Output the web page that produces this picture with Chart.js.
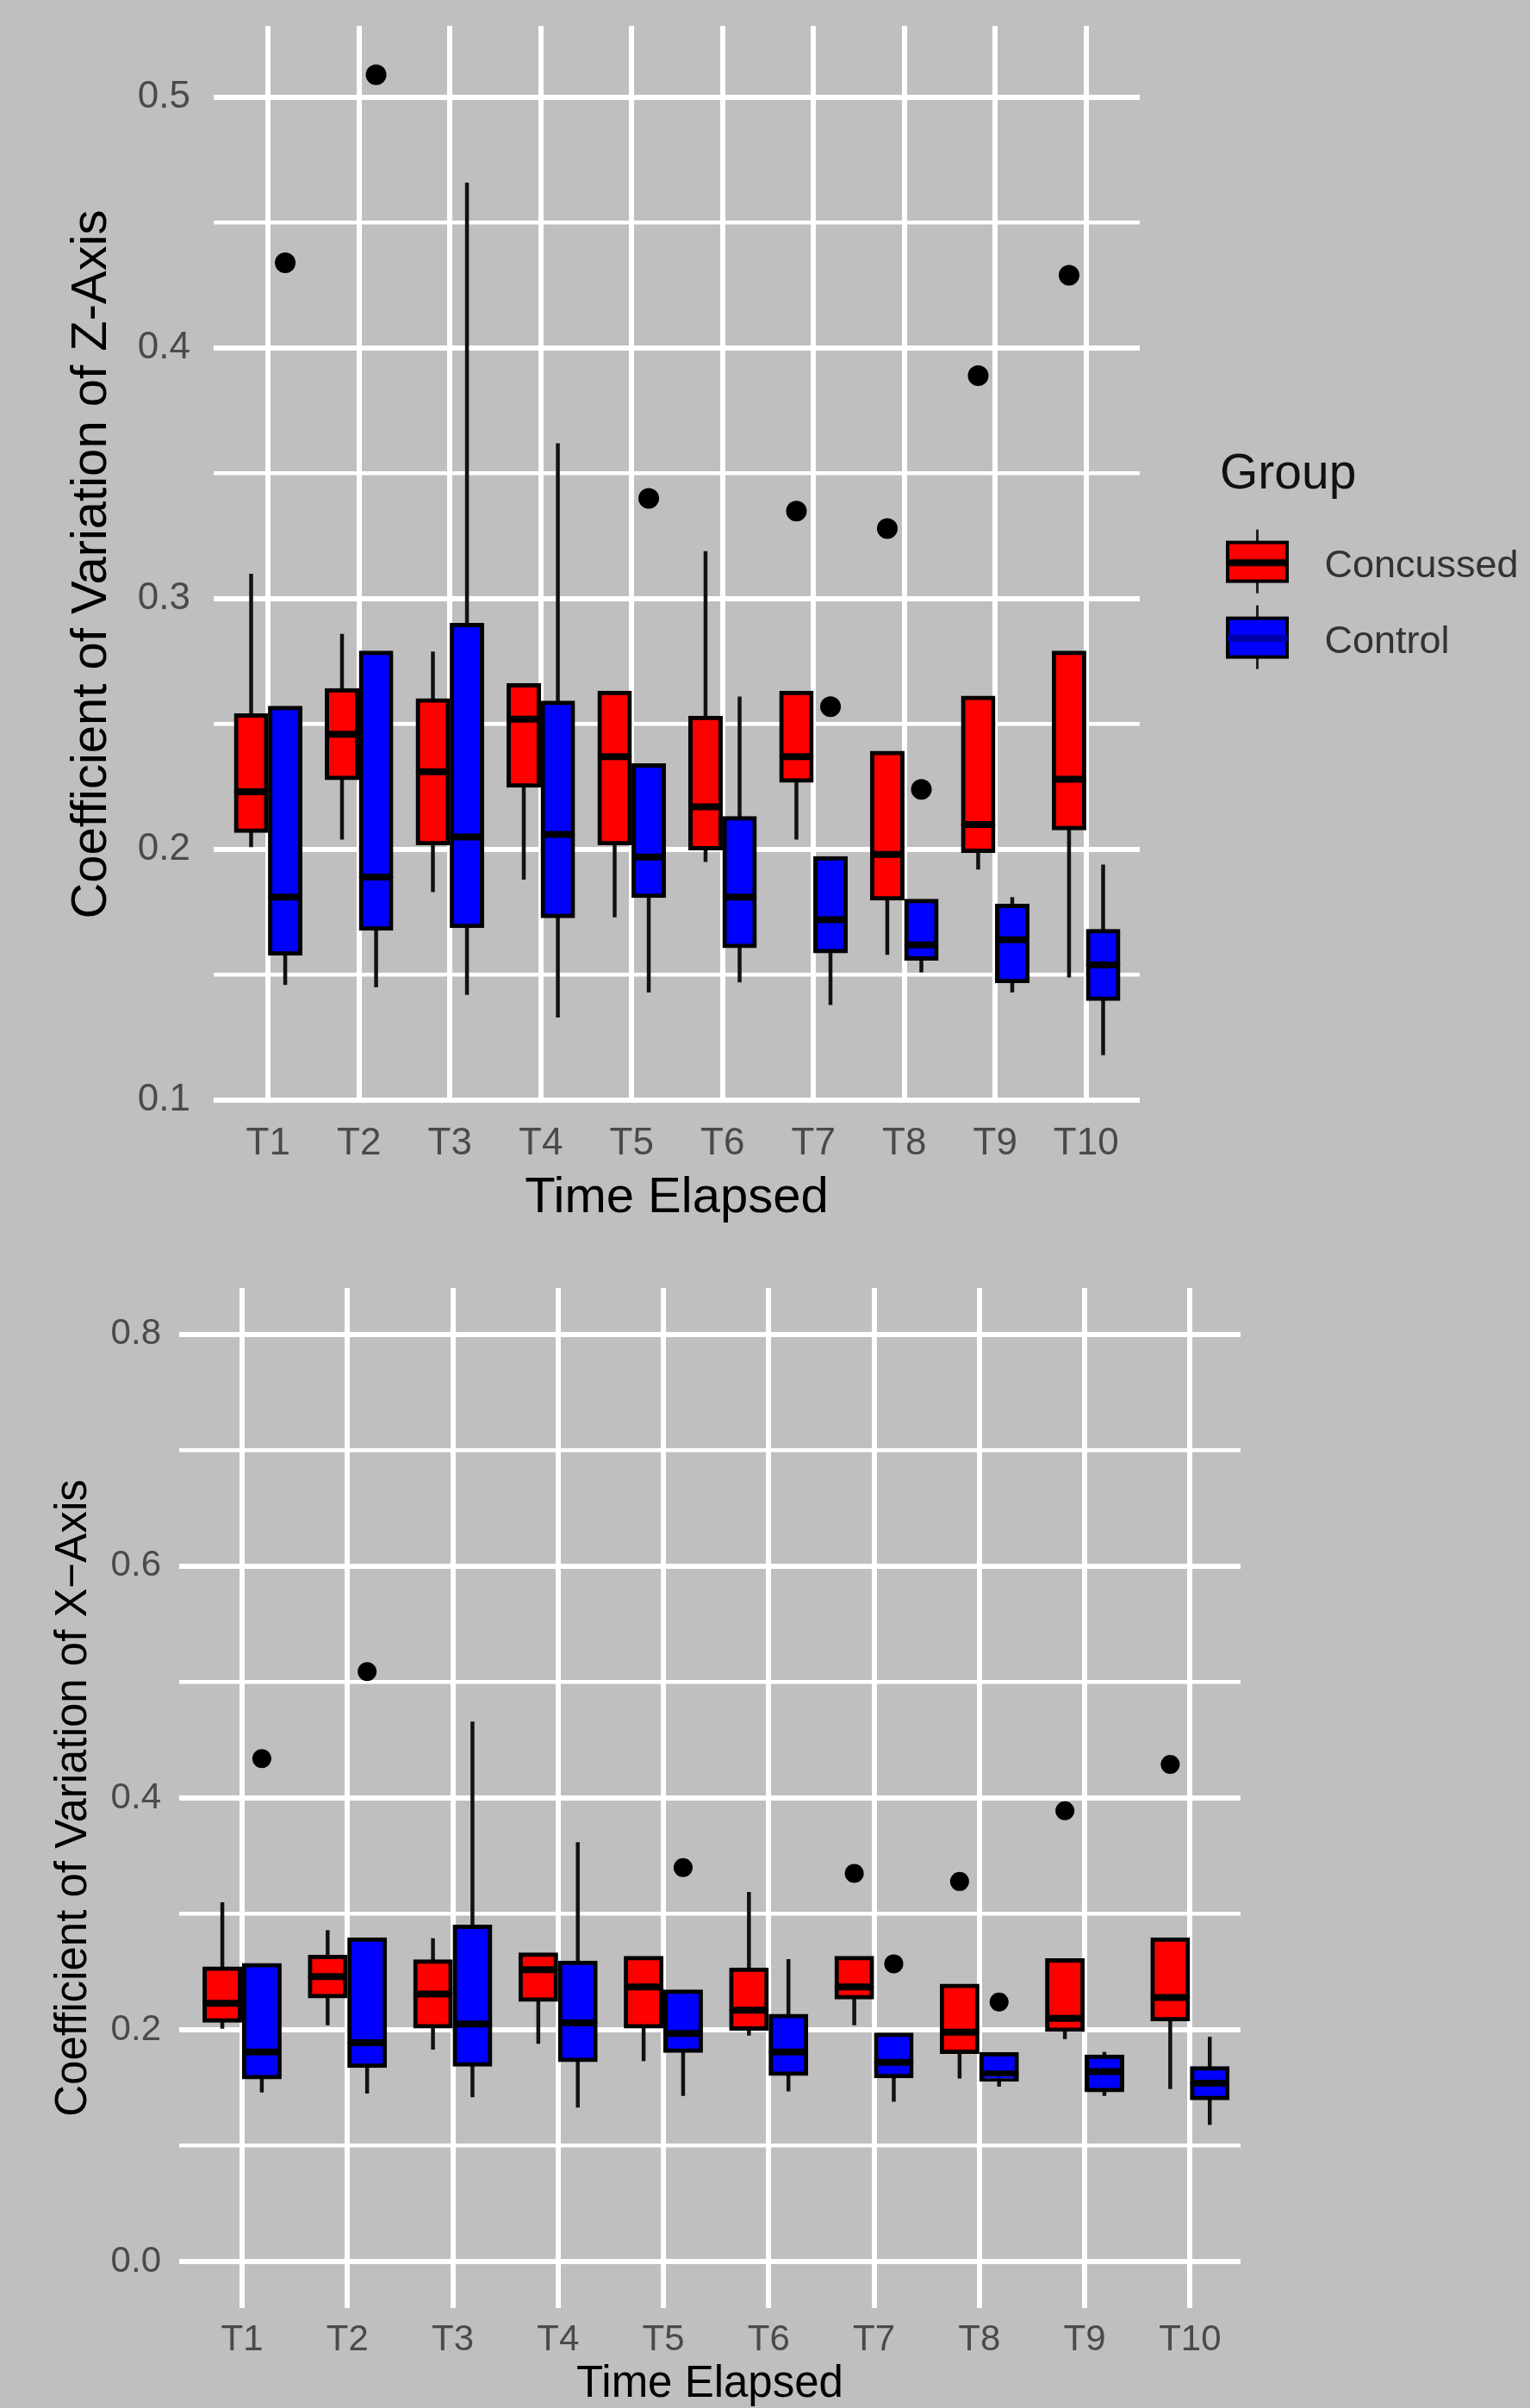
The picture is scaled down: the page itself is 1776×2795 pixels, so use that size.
<!DOCTYPE html>
<html>
<head>
<meta charset="utf-8">
<script src="https://cdn.jsdelivr.net/npm/chart.js@4.4.1/dist/chart.umd.min.js"></script>
<style>
html, body { margin: 0; padding: 0; background: #bfbfbf; overflow: hidden; width: 1776px; height: 2795px; }
#c1 { position: absolute; left: 0; top: 0; }
#c2 { position: absolute; left: 0; top: 1440px; }
</style>
</head>
<body>
<canvas id="c1" width="1776" height="1440"></canvas>
<canvas id="c2" width="1776" height="1400"></canvas>
<script>
// ---------------- data ----------------
const categories = ['T1', 'T2', 'T3', 'T4', 'T5', 'T6', 'T7', 'T8', 'T9', 'T10'];
const groups = ['Concussed', 'Control'];

// Concussed group: whisker low, Q1, median, Q3, whisker high, outlier
const concLow  = [0.201, 0.204, 0.183, 0.188, 0.173, 0.195, 0.204, 0.158, 0.192, 0.149];
const concQ1   = [0.207, 0.228, 0.202, 0.225, 0.202, 0.200, 0.227, 0.180, 0.199, 0.208];
const concMed  = [0.223, 0.246, 0.231, 0.252, 0.237, 0.217, 0.237, 0.198, 0.210, 0.228];
const concQ3   = [0.254, 0.264, 0.260, 0.266, 0.263, 0.253, 0.263, 0.239, 0.261, 0.279];
const concHigh = [0.310, 0.286, 0.279, 0.266, 0.263, 0.319, 0.263, 0.239, 0.261, 0.279];
const concOut  = [null, null, null, null, null, null, 0.335, 0.328, 0.389, 0.429];

// Control group
const ctrlLow  = [0.146, 0.145, 0.142, 0.133, 0.143, 0.147, 0.138, 0.151, 0.143, 0.118];
const ctrlQ1   = [0.158, 0.168, 0.169, 0.173, 0.181, 0.161, 0.159, 0.156, 0.147, 0.140];
const ctrlMed  = [0.181, 0.189, 0.205, 0.206, 0.197, 0.181, 0.172, 0.162, 0.164, 0.154];
const ctrlQ3   = [0.257, 0.279, 0.290, 0.259, 0.234, 0.213, 0.197, 0.180, 0.178, 0.168];
const ctrlHigh = [0.257, 0.279, 0.466, 0.362, 0.234, 0.261, 0.197, 0.180, 0.181, 0.194];
const ctrlOut  = [0.434, 0.509, null, null, 0.340, null, 0.257, 0.224, null, null];

// tick values / labels
const yTicksZ = [0.1, 0.15, 0.2, 0.25, 0.3, 0.35, 0.4, 0.45, 0.5];
const yTickLabelsZ = ['0.1', '', '0.2', '', '0.3', '', '0.4', '', '0.5'];
const yTicksX = [0, 0.1, 0.2, 0.3, 0.4, 0.5, 0.6, 0.7, 0.8];
const yTickLabelsX = ['0.0', '', '0.2', '', '0.4', '', '0.6', '', '0.8'];

// ---------------- styles ----------------
const FONT = "'Liberation Sans', Arial, Helvetica, sans-serif";
Chart.defaults.font.family = FONT;
const FILLS = ['#ff0000', '#0000ff'];
const MED_GLYPH = ['#000000', '#0000a8'];
const CAT_PCT = 0.75, BAR_PCT = 0.96;
const GRID = '#ffffff';

function makeGlyph(fill, medColor) {
  const c = document.createElement('canvas');
  c.width = 140; c.height = 100;
  const g = c.getContext('2d');
  g.strokeStyle = '#222'; g.lineWidth = 3;
  g.beginPath(); g.moveTo(42.5, 7); g.lineTo(42.5, 81); g.stroke();
  g.fillStyle = fill; g.fillRect(6, 20, 73, 49);
  g.strokeStyle = '#000'; g.lineWidth = 4; g.strokeRect(8, 22, 69, 45);
  g.fillStyle = medColor; g.fillRect(8, 41.5, 69, 8);
  return c;
}
const glyphs = [makeGlyph(FILLS[0], MED_GLYPH[0]), makeGlyph(FILLS[1], MED_GLYPH[1])];

function groupDatasets(name, fill, low, q1, med, q3, high, out, side, border, radius) {
  const common = { xAxisID: 'x', yAxisID: 'y', stack: name, categoryPercentage: CAT_PCT, barPercentage: BAR_PCT };
  return [
    Object.assign({ type: 'bar', label: name, order: 1,
      data: categories.map((c, i) => ({ x: i + 1, y: [q1[i], med[i]] })),
      backgroundColor: fill, borderColor: '#000', borderWidth: border, borderSkipped: false, inflateAmount: 1 }, common),
    Object.assign({ type: 'bar', label: name + ' upper', order: 1,
      data: categories.map((c, i) => ({ x: i + 1, y: [med[i], q3[i]] })),
      backgroundColor: fill, borderColor: '#000', borderWidth: border, borderSkipped: false, inflateAmount: 1 }, common),
    Object.assign({ type: 'bar', label: name + ' whisker', order: 2,
      data: categories.map((c, i) => ({ x: i + 1, y: [low[i], high[i]] })),
      backgroundColor: '#111', borderWidth: 0, maxBarThickness: 4.5 }, common),
    { type: 'scatter', label: name + ' outliers', order: 0, xAxisID: 'x', yAxisID: 'y',
      data: categories.map((c, i) => out[i] == null ? null : { x: i + 1 + side * CAT_PCT / 4, y: out[i] }).filter(Boolean),
      pointRadius: radius, backgroundColor: '#000', borderWidth: 0 }
  ];
}

function buildChart(canvas, cfg) {
  const datasets = [].concat(
    groupDatasets(groups[0], FILLS[0], concLow, concQ1, concMed, concQ3, concHigh, concOut, -1, cfg.border, cfg.radius),
    groupDatasets(groups[1], FILLS[1], ctrlLow, ctrlQ1, ctrlMed, ctrlQ3, ctrlHigh, ctrlOut, 1, cfg.border, cfg.radius)
  );
  const scales = {
    x: {
      type: 'linear', min: cfg.xMin, max: cfg.xMax, offset: false, bounds: 'data',
      afterBuildTicks: (s) => { s.ticks = categories.map((c, i) => ({ value: i + 1 })); },
      ticks: { callback: (v, i) => categories[i], autoSkip: false, maxRotation: 0, minRotation: 0,
        padding: cfg.xTickPad, color: '#4a4a4a', font: { size: cfg.tickSize } },
      grid: { color: GRID, lineWidth: 6, drawTicks: false, offset: false },
      border: { display: false },
      title: { display: true, text: 'Time Elapsed', color: '#000', font: { size: cfg.titleSize },
        padding: { top: 0, bottom: cfg.xTitlePad } },
      afterFit: (s) => { s.height = cfg.xAxisHeight; }
    },
    y: {
      type: 'linear', position: 'left', min: cfg.yMin, max: cfg.yMax, stacked: false, bounds: 'data',
      afterBuildTicks: (s) => { s.ticks = cfg.yTicks.map(v => ({ value: v })); },
      ticks: { callback: (v, i) => cfg.yLabels[i], padding: cfg.yTickPad, color: '#4a4a4a',
        font: { size: cfg.tickSize, lineHeight: 0.1 } },
      grid: { color: GRID, lineWidth: (ctx) => (cfg.yLabels[ctx.index] ? 6 : 4.5), drawTicks: false },
      border: { display: false },
      title: { display: true, text: cfg.yTitle, color: '#000', font: { size: cfg.titleSize },
        padding: { top: cfg.yTitlePad, bottom: 0 } },
      afterFit: (s) => { s.width = cfg.yAxisWidth; }
    }
  };
  if (cfg.legend) {
    scales.gap = { type: 'linear', position: 'right', display: true,
      grid: { display: false }, ticks: { display: false }, border: { display: false },
      afterFit: (s) => { s.width = cfg.gapWidth; } };
  }
  return new Chart(canvas, {
    type: 'bar',
    data: { datasets },
    options: {
      responsive: false, maintainAspectRatio: false, animation: false, devicePixelRatio: 1,
      events: [],
      layout: { padding: cfg.padding },
      scales,
      plugins: {
        tooltip: { enabled: false },
        legend: cfg.legend ? {
          display: true, position: 'right', align: 'center', fullSize: false, maxWidth: 440,
          title: { display: true, text: 'Group', position: 'start', color: '#111',
            font: { size: 57 }, padding: { top: 23.5, bottom: 1.3 } },
          labels: {
            usePointStyle: true, pointStyleWidth: 56, padding: 43, color: '#333', font: { size: 45 },
            generateLabels: () => groups.map((g, i) => ({
              text: g, pointStyle: glyphs[i], fillStyle: FILLS[i], strokeStyle: '#000',
              lineWidth: 0, hidden: false, datasetIndex: i * 4, fontColor: '#333'
            }))
          }
        } : { display: false }
      }
    }
  });
}

// Chart 1: Z-axis
buildChart(document.getElementById('c1'), {
  legend: true,
  xMin: 0.4, xMax: 10.59,
  yMin: 0.099, yMax: 0.5285,
  yTicks: yTicksZ, yLabels: yTickLabelsZ,
  yTitle: 'Coefficient of Variation of Z-Axis',
  tickSize: 44, titleSize: 58,
  xTickPad: 21, xTitlePad: 14, xAxisHeight: 160,
  yTickPad: 27, yTitlePad: 72, yAxisWidth: 248,
  gapWidth: 93,
  padding: { top: 30, right: 3.4, bottom: 0, left: 0 },
  border: 5, radius: 12
});

// Chart 2: X-axis
buildChart(document.getElementById('c2'), {
  legend: false,
  xMin: 0.403, xMax: 10.48,
  yMin: -0.04, yMax: 0.84,
  yTicks: yTicksX, yLabels: yTickLabelsX,
  yTitle: 'Coefficient of Variation of X\u2212Axis',
  tickSize: 42, titleSize: 51,
  xTickPad: 12, xTitlePad: 41, xAxisHeight: 161,
  yTickPad: 21, yTitlePad: 55, yAxisWidth: 208,
  padding: { top: 55, right: 336, bottom: 0, left: 0 },
  border: 5, radius: 11
});
</script>
</body>
</html>
